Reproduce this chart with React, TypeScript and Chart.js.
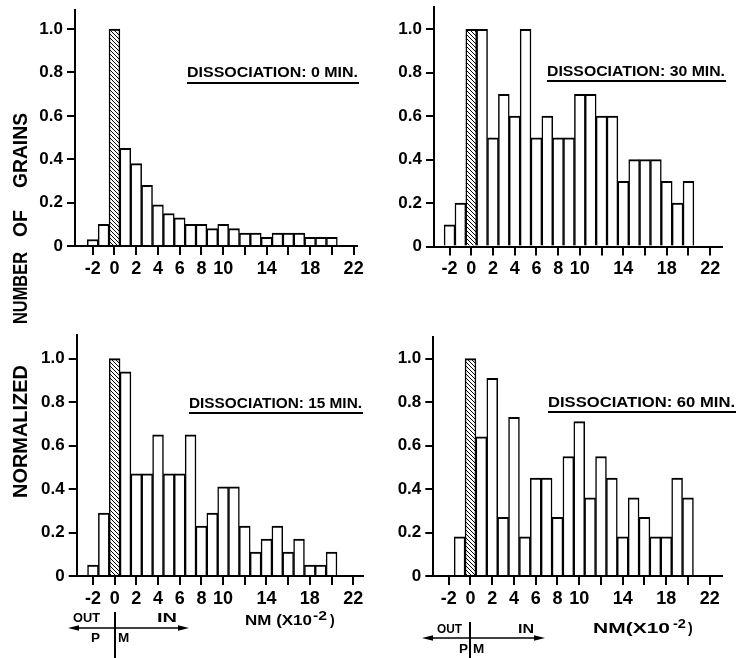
import React, { useEffect, useRef } from "react";
import { Chart, registerables } from "chart.js";

Chart.register(...registerables);

// ---------- data ----------
const bins = [-2, -1, 0, 1, 2, 3, 4, 5, 6, 7, 8, 9, 10, 11, 12, 13, 14, 15, 16, 17, 18, 19, 20];
const grains0min = [0.03, 0.10, 1.00, 0.45, 0.38, 0.28, 0.19, 0.15, 0.13, 0.10, 0.10, 0.08, 0.10, 0.08, 0.06, 0.06, 0.04, 0.06, 0.06, 0.06, 0.04, 0.04, 0.04];
const grains30min = [0.10, 0.20, 1.00, 1.00, 0.50, 0.70, 0.60, 1.00, 0.50, 0.60, 0.50, 0.50, 0.70, 0.70, 0.60, 0.60, 0.30, 0.40, 0.40, 0.40, 0.30, 0.20, 0.30];
const grains15min = [0.05, 0.29, 1.00, 0.94, 0.47, 0.47, 0.65, 0.47, 0.47, 0.65, 0.23, 0.29, 0.41, 0.41, 0.23, 0.11, 0.17, 0.23, 0.11, 0.17, 0.05, 0.05, 0.11];
const grains60min = [null, 0.18, 1.00, 0.64, 0.91, 0.27, 0.73, 0.18, 0.45, 0.45, 0.27, 0.55, 0.71, 0.36, 0.55, 0.45, 0.18, 0.36, 0.27, 0.18, 0.18, 0.45, 0.36];
const membraneBin = 0;
const xTickValues = [-2, 0, 2, 4, 6, 8, 10, 12, 14, 16, 18, 20, 22];
const xTickLabels = ["-2", "0", "2", "4", "6", "8", "10", "", "14", "", "18", "", "22"];
const yTickValues = [0, 0.2, 0.4, 0.6, 0.8, 1.0];
const yTickLabels = ["0", "0.2", "0.4", "0.6", "0.8", "1.0"];
const panelTitles = ["DISSOCIATION: 0 MIN.", "DISSOCIATION: 30 MIN.", "DISSOCIATION: 15 MIN.", "DISSOCIATION: 60 MIN."];
const yAxisWords = ["NORMALIZED", "NUMBER", "OF", "GRAINS"];
const xAxisUnit = "NM (X10";
const xAxisUnitNoSpace = "NM(X10";
const xAxisExp = "-2";

const FONT = '"Liberation Sans", Arial, Helvetica, sans-serif';

// ---------- layout ----------
type Box = { left: number; top: number; width: number; height: number };
type Area = { left: number; right: number; top: number; bottom: number };
type PanelCfg = {
  series: (number | null)[];
  canvas: Box;
  area: Area;
  xMin: number;
  xMax: number;
  yMax: number;
};

const PANELS: PanelCfg[] = [
  {
    series: grains0min,
    canvas: { left: 20, top: 0, width: 350, height: 300 },
    area: { left: 75, right: 357, top: 10, bottom: 246 },
    xMin: -3.63,
    xMax: 22.31,
    yMax: 1.088,
  },
  {
    series: grains30min,
    canvas: { left: 380, top: 0, width: 356, height: 300 },
    area: { left: 434, right: 721.7, top: 6.7, bottom: 246.5 },
    xMin: -3.43,
    xMax: 23.06,
    yMax: 1.104,
  },
  {
    series: grains15min,
    canvas: { left: 20, top: 300, width: 350, height: 320 },
    area: { left: 76.7, right: 363, top: 335, bottom: 576 },
    xMin: -3.5,
    xMax: 22.9,
    yMax: 1.109,
  },
  {
    series: grains60min,
    canvas: { left: 380, top: 300, width: 356, height: 320 },
    area: { left: 433.3, right: 721.7, top: 336.7, bottom: 576 },
    xMin: -3.42,
    xMax: 23.1,
    yMax: 1.101,
  },
];

function makeHatch(): CanvasPattern | string {
  const c = document.createElement("canvas");
  c.width = 4;
  c.height = 4;
  const g = c.getContext("2d");
  if (!g) return "#888";
  g.fillStyle = "#fff";
  g.fillRect(0, 0, 4, 4);
  g.strokeStyle = "#000";
  g.lineWidth = 1;
  g.beginPath();
  g.moveTo(-1, -1);
  g.lineTo(5, 5);
  g.moveTo(3, -1);
  g.lineTo(5, 1);
  g.moveTo(-1, 3);
  g.lineTo(1, 5);
  g.stroke();
  return g.createPattern(c, "repeat") || "#888";
}

function Panel({ cfg }: { cfg: PanelCfg }) {
  const ref = useRef<HTMLCanvasElement>(null);
  const c = cfg.canvas;
  const a = cfg.area;

  useEffect(() => {
    if (!ref.current) return;
    const hatch = makeHatch();
    const points = bins
      .map((b, i) => ({ x: b, y: cfg.series[i] }))
      .filter((p) => p.y !== null);

    const chart = new Chart(ref.current, {
      type: "bar",
      data: {
        datasets: [
          {
            data: points as any,
            backgroundColor: (ctx: any) =>
              ctx.raw && ctx.raw.x === membraneBin ? hatch : "#ffffff",
            borderColor: "#000",
            borderWidth: { top: 2, left: 1.5, right: 1.5, bottom: 0 },
            barPercentage: 1,
            categoryPercentage: 1,
          } as any,
        ],
      },
      options: {
        animation: false,
        responsive: false,
        devicePixelRatio: 1,
        maintainAspectRatio: false,
        layout: {
          padding: {
            left: 0,
            top: a.top - c.top,
            right: c.left + c.width - a.right,
            bottom: 0,
          },
        },
        plugins: {
          legend: { display: false },
          tooltip: { enabled: false },
          title: { display: false },
        },
        scales: {
          x: {
            type: "linear",
            offset: false,
            min: cfg.xMin,
            max: cfg.xMax,
            afterBuildTicks: (s: any) => {
              s.ticks = xTickValues.map((v) => ({ value: v }));
            },
            afterFit: (s: any) => {
              s.height = c.top + c.height - a.bottom;
              s.paddingLeft = 0;
              s.paddingRight = 0;
            },
            ticks: {
              autoSkip: false,
              maxRotation: 0,
              minRotation: 0,
              padding: 3,
              color: "#000",
              font: { family: FONT, size: 18, weight: "bold" },
              callback: (_v: any, i: number) => xTickLabels[i] ?? "",
            },
            grid: {
              offset: false,
              drawOnChartArea: false,
              drawTicks: true,
              tickLength: 9,
              color: "#000",
              lineWidth: 2,
            },
            border: { display: true, color: "#000", width: 2 },
          } as any,
          y: {
            type: "linear",
            min: 0,
            max: cfg.yMax,
            afterBuildTicks: (s: any) => {
              s.ticks = yTickValues.map((v) => ({ value: v }));
            },
            afterFit: (s: any) => {
              s.width = a.left - c.left;
              s.paddingTop = 0;
              s.paddingBottom = 0;
            },
            ticks: {
              padding: 4,
              color: "#000",
              font: { family: FONT, size: 17, weight: "bold" },
              callback: (_v: any, i: number) => yTickLabels[i] ?? "",
            },
            grid: {
              drawOnChartArea: false,
              drawTicks: true,
              tickLength: 8,
              color: "#000",
              lineWidth: 2,
            },
            border: { display: true, color: "#000", width: 2 },
          } as any,
        },
      },
    });
    return () => chart.destroy();
  }, []);

  return (
    <canvas
      ref={ref}
      width={c.width}
      height={c.height}
      style={{
        position: "absolute",
        left: c.left,
        top: c.top,
        width: c.width,
        height: c.height,
      }}
    />
  );
}

function Arrow({ x1, x2, y }: { x1: number; x2: number; y: number }) {
  return (
    <g>
      <line x1={x1 + 6} x2={x2 - 6} y1={y} y2={y} stroke="#000" strokeWidth={1.6} />
      <polygon points={`${x1},${y} ${x1 + 11},${y - 2.8} ${x1 + 11},${y + 2.8}`} fill="#000" />
      <polygon points={`${x2},${y} ${x2 - 11},${y - 2.8} ${x2 - 11},${y + 2.8}`} fill="#000" />
    </g>
  );
}

export default function App() {
  const titleBoxes = [
    { x: 187, base: 77, line: 83, len: 171 },
    { x: 547, base: 75.5, line: 81, len: 178 },
    { x: 189, base: 407.5, line: 413, len: 173 },
    { x: 548, base: 407, line: 412, len: 187 },
  ];
  const wordBoxes = [
    { c: 431.5, len: 133 },
    { c: 288, len: 72 },
    { c: 223.5, len: 27 },
    { c: 150.5, len: 75 },
  ];
  return (
    <div
      style={{
        position: "absolute",
        left: 0,
        top: 0,
        width: 736,
        height: 658,
        background: "#fff",
        overflow: "hidden",
        fontFamily: FONT,
      }}
    >
      {PANELS.map((p, i) => (
        <Panel key={i} cfg={p} />
      ))}
      <svg
        width={736}
        height={658}
        style={{ position: "absolute", left: 0, top: 0, pointerEvents: "none" }}
        fontFamily={FONT}
        fontWeight="bold"
      >
        {panelTitles.map((t, i) => {
          const b = titleBoxes[i];
          return (
            <g key={i}>
              <text x={b.x} y={b.base} fontSize={14.5} textLength={b.len} lengthAdjust="spacingAndGlyphs" fill="#000">
                {t}
              </text>
              <line x1={b.x} x2={b.x + b.len + 1} y1={b.line} y2={b.line} stroke="#000" strokeWidth={2} />
            </g>
          );
        })}

        {yAxisWords.map((w, i) => (
          <text
            key={w}
            transform={`translate(27, ${wordBoxes[i].c}) rotate(-90)`}
            textAnchor="middle"
            fontSize={19.5}
            textLength={wordBoxes[i].len}
            lengthAdjust="spacingAndGlyphs"
            fill="#000"
          >
            {w}
          </text>
        ))}

        {/* bottom-left annotation */}
        <line x1={115} x2={115} y1={612} y2={658} stroke="#000" strokeWidth={2} />
        <Arrow x1={68} x2={189} y={628} />
        <text x={73} y={622} fontSize={13.5} textLength={27} lengthAdjust="spacingAndGlyphs">OUT</text>
        <text x={157} y={622} fontSize={13.5} textLength={20} lengthAdjust="spacingAndGlyphs">IN</text>
        <text x={91} y={642} fontSize={13.5}>P</text>
        <text x={118} y={642} fontSize={13.5}>M</text>
        <text x={245} y={625} fontSize={14} textLength={67} lengthAdjust="spacingAndGlyphs">{xAxisUnit}</text>
        <text x={313} y={620} fontSize={12} textLength={14} lengthAdjust="spacingAndGlyphs">{xAxisExp}</text>
        <text x={330} y={625} fontSize={14}>)</text>

        {/* bottom-right annotation */}
        <line x1={470} x2={470} y1={622} y2={658} stroke="#000" strokeWidth={2} />
        <Arrow x1={422} x2={545} y={638} />
        <text x={437} y={633} fontSize={13.5} textLength={25} lengthAdjust="spacingAndGlyphs">OUT</text>
        <text x={518} y={633} fontSize={13.5} textLength={16} lengthAdjust="spacingAndGlyphs">IN</text>
        <text x={459} y={653} fontSize={13.5}>P</text>
        <text x={473} y={653} fontSize={13.5}>M</text>
        <text x={593} y={633} fontSize={14} textLength={77} lengthAdjust="spacingAndGlyphs">{xAxisUnitNoSpace}</text>
        <text x={673} y={628} fontSize={12} textLength={13} lengthAdjust="spacingAndGlyphs">{xAxisExp}</text>
        <text x={688} y={633} fontSize={14}>)</text>
      </svg>
    </div>
  );
}
